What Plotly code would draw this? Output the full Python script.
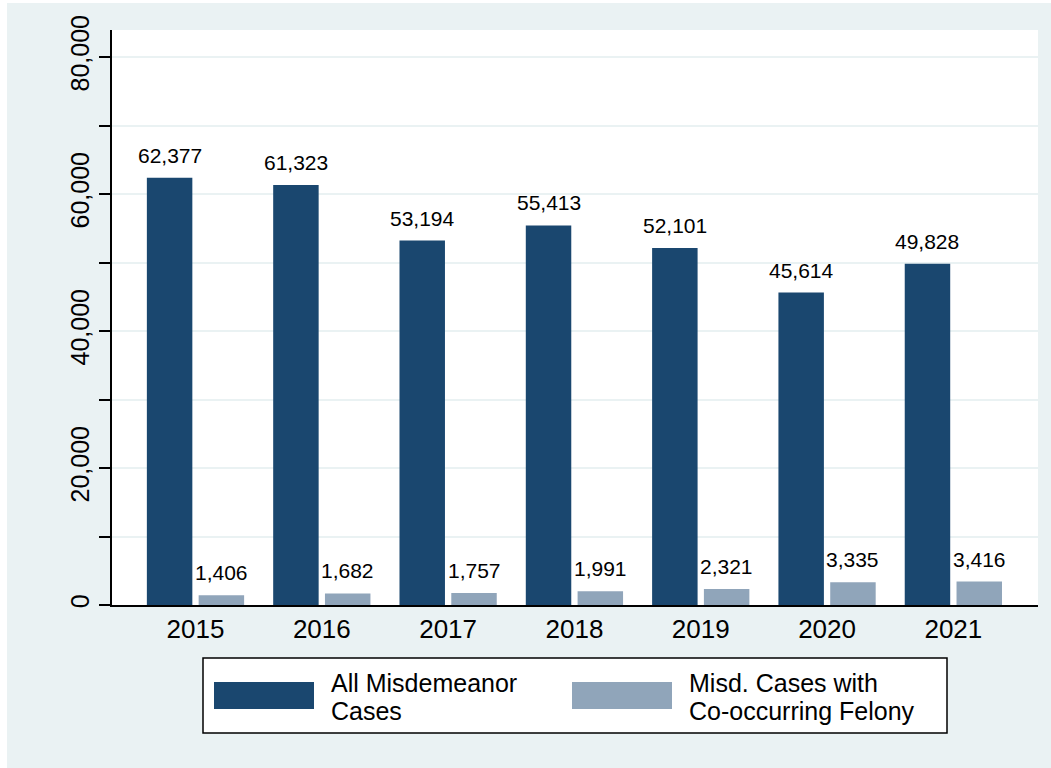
import plotly.graph_objects as go

years = ["2015", "2016", "2017", "2018", "2019", "2020", "2021"]
all_misd = [62377, 61323, 53194, 55413, 52101, 45614, 49828]
cooccur = [1406, 1682, 1757, 1991, 2321, 3335, 3416]
series_names = [["All Misdemeanor", "Cases"], ["Misd. Cases with", "Co-occurring Felony"]]
ytick_vals = list(range(0, 80001, 10000))
ytick_text = [f"{v:,}" if v % 20000 == 0 else "" for v in ytick_vals]

DARK = "#1A476F"
LIGHT = "#90A5BA"
BG = "#EAF2F3"
FONT = "Liberation Sans, Arial, sans-serif"

# page offset of the figure (body margin) and figure size
OX, OY = 7, 3
W, H = 1051 - OX, 768 - OY
# plot area in page pixels
L, R, T, B = 112, 1038, 30, 605


def px(x):
    return (x - L) / (R - L)


def py(y):
    return (B - y) / (B - T)


xs = list(range(len(years)))

fig = go.Figure()
fig.add_trace(go.Bar(x=xs, y=all_misd, width=0.36, offset=-0.385,
                     marker=dict(color=DARK, line=dict(width=0)), name=" ".join(series_names[0])))
fig.add_trace(go.Bar(x=xs, y=cooccur, width=0.36, offset=0.025,
                     marker=dict(color=LIGHT, line=dict(width=0)), name=" ".join(series_names[1])))

annotations = []
for i, v in enumerate(all_misd):
    annotations.append(dict(x=i - 0.205, y=v, xref="x", yref="y", text=f"{v:,}", showarrow=False,
                            yanchor="bottom", yshift=9, font=dict(size=21, color="black", family=FONT)))
for i, v in enumerate(cooccur):
    annotations.append(dict(x=i + 0.205, y=v, xref="x", yref="y", text=f"{v:,}", showarrow=False,
                            yanchor="bottom", yshift=9, font=dict(size=21, color="black", family=FONT)))

# legend text
for j, lx in enumerate([329, 687]):
    for k, line in enumerate(series_names[j]):
        annotations.append(dict(x=px(lx), y=py(683 + k * 28), xref="paper", yref="paper", text=line,
                                showarrow=False, xanchor="left", yanchor="middle",
                                font=dict(size=25, color="black", family=FONT)))

shapes = [
    # legend box
    dict(type="rect", xref="paper", yref="paper", x0=px(203), x1=px(947), y0=py(733), y1=py(658),
         fillcolor="white", line=dict(color="black", width=1.5)),
    dict(type="rect", xref="paper", yref="paper", x0=px(214), x1=px(314), y0=py(709), y1=py(682),
         fillcolor=DARK, line=dict(width=0)),
    dict(type="rect", xref="paper", yref="paper", x0=px(572), x1=px(672), y0=py(709), y1=py(682),
         fillcolor=LIGHT, line=dict(width=0)),
]

fig.update_layout(
    width=W, height=H,
    margin=dict(l=L - OX, r=(1051 - R), t=T - OY, b=(768 - B), pad=0),
    paper_bgcolor=BG, plot_bgcolor="white",
    showlegend=False,
    font=dict(family=FONT, color="black"),
    annotations=annotations, shapes=shapes,
    xaxis=dict(range=[-0.661, 6.67], tickvals=xs, ticktext=years, showgrid=False,
               showline=True, linecolor="black", linewidth=1.5, ticks="", zeroline=False,
               fixedrange=True, tickfont=dict(size=26, family=FONT, color="black")),
    yaxis=dict(range=[0, 83942], tickvals=ytick_vals, ticktext=ytick_text, tickangle=-90,
               showgrid=True, gridcolor=BG, gridwidth=2, showline=True, linecolor="black",
               linewidth=1.5, ticks="outside", ticklen=11, tickwidth=1.5, tickcolor="black",
               zeroline=False, fixedrange=True, tickfont=dict(size=25, family=FONT, color="black")),
)

fig.write_html(
    "out.html",
    config={"displayModeBar": False},
    post_script=f"document.body.style.margin='{OY}px 0 0 {OX}px'; document.body.style.overflow='hidden';",
)
